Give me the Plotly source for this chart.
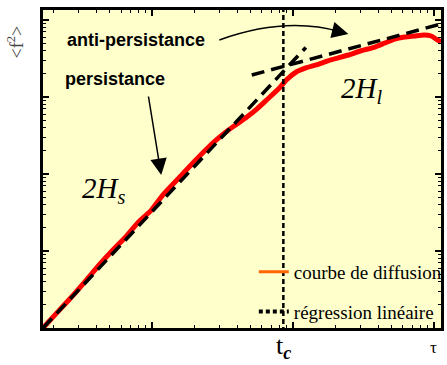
import plotly.graph_objects as go

# diffusion curve <f^2>(tau)
tau = [1.675, 2.03, 2.59, 3.40, 4.19, 5.33, 6.47, 7.98, 9.84, 11.9, 15.2, 19.4,
       24.7, 29.0, 34.0, 39.9, 46.9, 55.1, 64.7, 79.8, 89.3, 105, 123, 145, 185,
       247, 299, 380, 447, 525, 617, 724, 851, 953, 1033, 1120]
f2 = [1.0, 1.47, 2.38, 4.20, 6.58, 10.6, 15.2, 23.8, 34.0, 53.5, 86.1, 139,
      218, 285, 362, 446, 550, 698, 914, 1309, 1663, 2113, 2382, 2606, 3027,
      3511, 3958, 4460, 5025, 5664, 6013, 6197, 6387, 6197, 5664, 5178]

# linear regressions (short and long times)
fit_s_x = [1.675, 123]
fit_s_y = [1.0, 4400]
fit_l_x = [50.8, 1120]
fit_l_y = [1931, 8870]

tc = 85.1
y_lo, y_hi = 0.7, 20000

X_RANGE = [0.224, 3.049]
Y_RANGE = [0, 4.13]

W, H = 447, 365
L, R, T, B = 43, 0, 10, 37
PW, PH = W - L - R, H - T - B


def px(x, y):
    # pixel position in the window -> paper coordinates
    return (x - L) / PW, (T + PH - y) / PH


fig = go.Figure()

fig.add_trace(go.Scatter(x=tau, y=f2, mode='lines', showlegend=False,
                         line=dict(color='#ff0000', width=5, shape='spline', smoothing=0.6)))
fig.add_trace(go.Scatter(x=fit_s_x, y=fit_s_y, mode='lines', showlegend=False,
                         line=dict(color='black', width=3.5, dash='13px,7px')))
fig.add_trace(go.Scatter(x=fit_l_x, y=fit_l_y, mode='lines', showlegend=False,
                         line=dict(color='black', width=3.5, dash='13px,7px')))
# t_c marker
fig.add_trace(go.Scatter(x=[tc, tc], y=[y_lo, y_hi], mode='lines', showlegend=False,
                         line=dict(color='black', width=2.5, dash='5px,3px')))

# legend entries
fig.add_trace(go.Scatter(x=[None], y=[None], mode='lines', name='courbe de diffusion',
                         legendgroup='a', line=dict(color='#ff6600', width=3)))
fig.add_trace(go.Scatter(x=[None], y=[None], mode='lines', name='régression linéaire',
                         legendgroup='b', line=dict(color='black', width=4, dash='4px,3px')))

minor_x = [m * 10 ** k for k in range(0, 4) for m in range(2, 10)]
minor_y = [m * 10 ** k for k in range(0, 5) for m in range(2, 10)]

axis_common = dict(type='log', showgrid=False, zeroline=False, showline=True,
                   linecolor='black', linewidth=2.5, mirror='ticks',
                   ticks='inside', ticklen=6, tickwidth=1.5, tickcolor='black',
                   showticklabels=False)

fig.update_xaxes(range=X_RANGE, tickvals=[10, 100, 1000],
                 minor=dict(tickvals=minor_x, ticks='inside', ticklen=3,
                            tickwidth=1.2, tickcolor='black'),
                 **axis_common)
fig.update_yaxes(range=Y_RANGE, tickvals=[1, 10, 100, 1000, 10000],
                 minor=dict(tickvals=minor_y, ticks='inside', ticklen=3,
                            tickwidth=1.2, tickcolor='black'),
                 **axis_common)


def label(x, y, text, font, **kw):
    xp, yp = px(x, y)
    return dict(x=xp, y=yp, xref='paper', yref='paper', text=text, showarrow=False,
                xanchor='center', yanchor='middle', font=font, **kw)


def arrow(x, y, ax, ay):
    xp, yp = px(x, y)
    return dict(x=xp, y=yp, xref='paper', yref='paper', text='', showarrow=True,
                ax=ax, ay=ay, arrowhead=2, arrowsize=2.2, arrowwidth=1.5,
                arrowcolor='black')


bold = dict(family='Liberation Sans', size=18, color='black')
ital = dict(family='Liberation Serif', size=29, color='black')

ann = [
    label(137, 40, '<b>anti-persistance</b>', bold),
    label(116, 79, '<b>persistance</b>', bold),
    arrow(163, 175, -13, -80),
    arrow(353, 34, -16, -4),
    label(104, 190, '<i>2H<sub>s</sub></i>', ital),
    label(366, 90, '<i>2H<sub>l</sub></i>', ital),
    label(16, 42, '&lt;f<sup>2</sup>&gt;',
          dict(family='Liberation Serif', size=18, color='#444444'), textangle=-90),
]
# axis labels below the x axis
ann.append(dict(x=1.93, y=px(0, 347)[1], xref='x', yref='paper',
                text='t<sub><b><i>c</i></b></sub>', showarrow=False,
                xanchor='center', yanchor='middle',
                font=dict(family='Liberation Serif', size=26, color='black')))
ann.append(dict(x=2.996, y=px(0, 347)[1], xref='x', yref='paper', text='τ',
                showarrow=False, xanchor='center', yanchor='middle',
                font=dict(family='Liberation Serif', size=17, color='black')))

# curved arrow body
sx, sy = px(222, 40)
cx, cy = px(290, 16)
ex, ey = px(345, 32)
shapes = [dict(type='path', xref='paper', yref='paper',
               path=f'M {sx},{sy} Q {cx},{cy} {ex},{ey}',
               line=dict(color='black', width=1.5))]

fig.update_layout(
    width=W, height=H,
    margin=dict(l=L, r=R, t=T, b=B),
    plot_bgcolor='#ffffcc', paper_bgcolor='white',
    font=dict(family='Liberation Serif', size=16, color='black'),
    annotations=ann, shapes=shapes,
    hovermode=False,
    legend=dict(x=px(257, 0)[0], y=px(0, 253)[1], xanchor='left', yanchor='top',
                bgcolor='rgba(0,0,0,0)', tracegroupgap=12,
                font=dict(family='Liberation Serif', size=19, color='black')),
)

fig.write_html("out.html", config={'displayModeBar': False},
               post_script="document.body.style.margin = '0';")
